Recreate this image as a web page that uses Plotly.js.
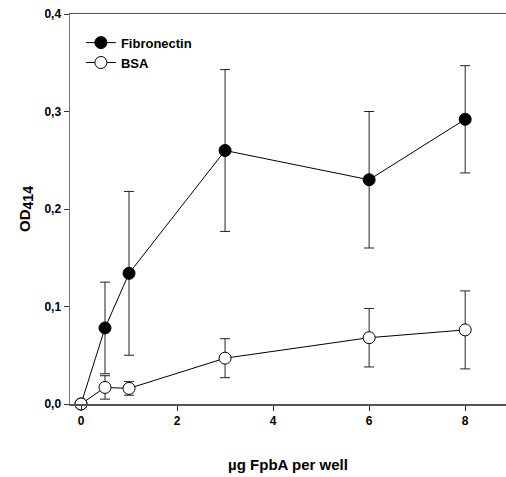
<!DOCTYPE html>
<html>
<head>
<meta charset="utf-8">
<script src="https://cdn.plot.ly/plotly-3.0.1.min.js"></script>
<style>html,body{margin:0;padding:0;background:#fff;}#chart{width:506px;height:477px;}</style>
</head>
<body>
<div id="chart"></div>
<script>
const doses = [0, 0.5, 1, 3, 6, 8];
const fibronectin = [0, 0.078, 0.134, 0.260, 0.230, 0.292];
const fibronectinErr = [0, 0.047, 0.084, 0.083, 0.070, 0.055];
const bsa = [0, 0.017, 0.016, 0.047, 0.068, 0.076];
const bsaErr = [0, 0.012, 0.007, 0.020, 0.030, 0.040];
const seriesNames = ["Fibronectin", "BSA"];
const xTicks = [0, 2, 4, 6, 8];
const yTicks = [0, 0.1, 0.2, 0.3, 0.4];

const font = {family: "Liberation Sans, Arial, sans-serif", color: "#000"};

const traces = [
  {
    x: doses, y: fibronectin, name: seriesNames[0], type: "scatter", mode: "lines+markers",
    line: {color: "#000", width: 1},
    marker: {symbol: "circle", size: 12, color: "#000", line: {color: "#000", width: 1}},
    error_y: {type: "data", array: fibronectinErr, visible: true, color: "#222", thickness: 1, width: 5},
    cliponaxis: false
  },
  {
    x: doses, y: bsa, name: seriesNames[1], type: "scatter", mode: "lines+markers",
    line: {color: "#000", width: 1},
    marker: {symbol: "circle", size: 12, color: "#fff", line: {color: "#000", width: 1}},
    error_y: {type: "data", array: bsaErr, visible: true, color: "#222", thickness: 1, width: 5},
    cliponaxis: false
  }
];

const layout = {
  width: 506, height: 477,
  margin: {l: 70, r: 0, t: 14, b: 73},
  paper_bgcolor: "#fff", plot_bgcolor: "#fff",
  separators: ",.",
  showlegend: true,
  legend: {
    x: 0.025, y: 0.965, xanchor: "left", yanchor: "top",
    bgcolor: "rgba(0,0,0,0)", borderwidth: 0,
    font: Object.assign({}, font, {size: 13, weight: "bold"}),
    tracegroupgap: 0
  },
  xaxis: {
    range: [-0.229, 8.85],
    tickmode: "array", tickvals: xTicks, ticktext: xTicks.map(String),
    ticks: "outside", ticklen: 5, tickwidth: 1, tickcolor: "#333",
    showline: true, linecolor: "#555", linewidth: 1.5, mirror: true,
    showgrid: false, zeroline: false,
    tickfont: Object.assign({}, font, {size: 12, weight: "bold"}),
    title: {text: "µg FpbA per well", font: Object.assign({}, font, {size: 15, weight: "bold"}), standoff: 32}
  },
  yaxis: {
    range: [0, 0.4],
    tickmode: "array", tickvals: yTicks, tickformat: ".1f",
    ticks: "outside", ticklen: 5, tickwidth: 1, tickcolor: "#333",
    showline: true, linecolor: "#777", linewidth: 1.5,
    showgrid: false, zeroline: false,
    tickfont: Object.assign({}, font, {size: 12, weight: "bold"}),
    title: {text: "OD<sub><span style=\"font-size:14px\">414</span></sub>", font: Object.assign({}, font, {size: 15, weight: "bold"}), standoff: 10}
  }
};

Plotly.newPlot("chart", traces, layout, {displayModeBar: false, staticPlot: true});
</script>
</body>
</html>
